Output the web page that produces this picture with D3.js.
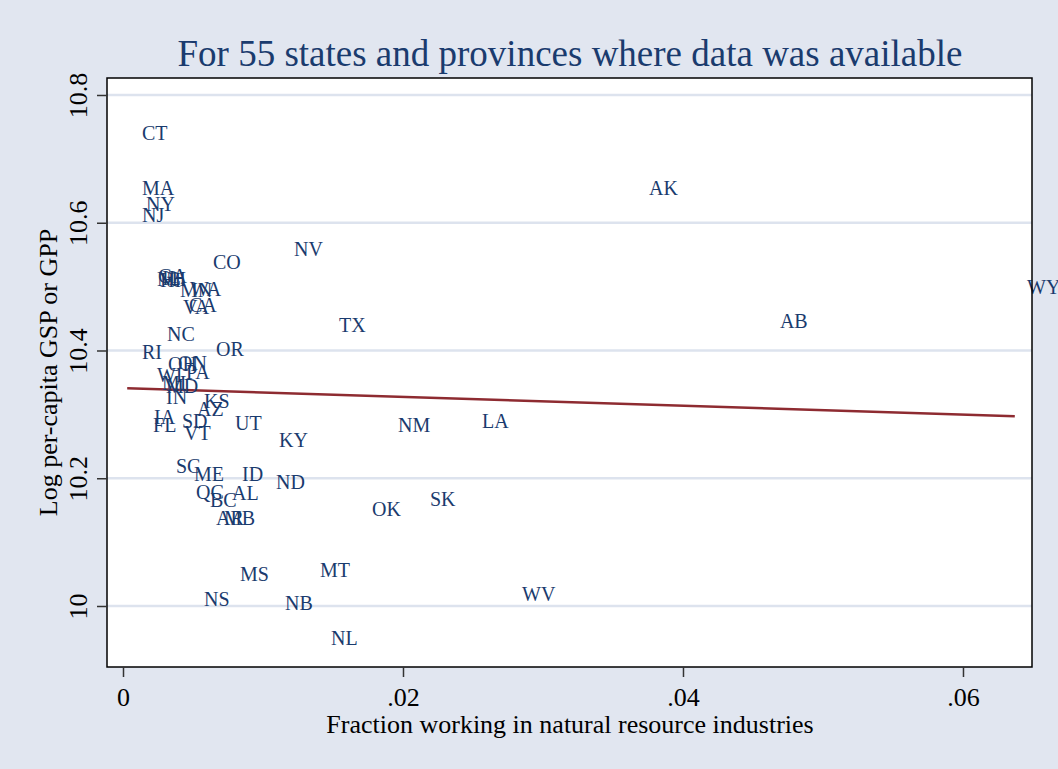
<!DOCTYPE html>
<html>
<head>
<meta charset="utf-8">
<script src="https://cdn.jsdelivr.net/npm/d3@7"></script>
<style>
  body { margin: 0; background: #e1e6f0; }
  svg { display: block; font-family: "Liberation Serif", "Times New Roman", serif; }
</style>
</head>
<body>
<svg id="chart" width="1058" height="769"></svg>
<script>
"use strict";
// state / province codes with (fraction in natural resources, log per-capita GSP)
const codes = ["CT","MA","NY","NJ","GA","NH","HI","IL","MN","WA","VA","CA","NC","RI","CO","OR",
  "OH","ON","PA","WI","MI","MD","IN","KS","AZ","IA","FL","SD","VT","UT","KY","NM","LA","TX",
  "NV","AK","AB","WY","SC","ME","ID","ND","QC","BC","AL","AR","MB","OK","SK","MS","MT","NS",
  "NB","NL","WV"];
const fracNR = [0.00064,0.00064,0.00093,0.00064,0.00179,0.00171,0.00193,0.00207,0.00336,0.00407,
  0.00357,0.00400,0.00243,0.00064,0.00571,0.00593,0.00250,0.00321,0.00379,0.00171,0.00207,0.00236,
  0.00236,0.00507,0.00457,0.00150,0.00143,0.00350,0.00364,0.00729,0.01043,0.01893,0.02493,0.01471,
  0.01150,0.03686,0.04621,0.06386,0.00307,0.00436,0.00779,0.01021,0.00450,0.00550,0.00707,0.00593,
  0.00650,0.01707,0.02121,0.00764,0.01336,0.00507,0.01086,0.01414,0.02779];
const logGSP = [10.741,10.654,10.629,10.612,10.517,10.512,10.510,10.513,10.495,10.496,10.468,10.471,
  10.426,10.398,10.539,10.402,10.379,10.380,10.366,10.362,10.349,10.344,10.327,10.321,10.308,10.296,
  10.283,10.290,10.271,10.286,10.260,10.283,10.290,10.440,10.559,10.654,10.446,10.499,10.219,10.207,
  10.207,10.194,10.178,10.166,10.177,10.138,10.138,10.152,10.168,10.050,10.056,10.011,10.005,9.950,
  10.019];
// linear fit endpoints
const fitX = [0.0003, 0.0637];
const fitY = [10.341, 10.297];
const xTicks = [0, 0.02, 0.04, 0.06];
const xTickLabels = ["0", ".02", ".04", ".06"];
const yTicks = [10, 10.2, 10.4, 10.6, 10.8];
const yTickLabels = ["10", "10.2", "10.4", "10.6", "10.8"];

const svg = d3.select("#chart");
const box = { left: 107, top: 78, right: 1032, bottom: 667 };

const x = d3.scaleLinear().domain([-0.001143, 0.06493]).range([box.left, box.right]);
const y = d3.scaleLinear().domain([9.9045, 10.8266]).range([box.bottom, box.top]);

const navy = "#1a3b6e";

svg.append("rect").attr("width", 1058).attr("height", 769).attr("fill", "#e1e6f0");

// title
svg.append("text")
  .attr("x", 570).attr("y", 66)
  .attr("text-anchor", "middle")
  .attr("font-size", 37)
  .attr("fill", navy)
  .text("For 55 states and provinces where data was available");

// plot region
svg.append("rect")
  .attr("x", box.left).attr("y", box.top)
  .attr("width", box.right - box.left).attr("height", box.bottom - box.top)
  .attr("fill", "#ffffff");

// gridlines
svg.append("g").selectAll("line")
  .data(yTicks).enter().append("line")
  .attr("x1", box.left).attr("x2", box.right)
  .attr("y1", d => y(d)).attr("y2", d => y(d))
  .style("stroke", "#dde3ee")
  .style("stroke-width", 2.5);

// fitted line
svg.append("line")
  .attr("x1", x(fitX[0])).attr("y1", y(fitY[0]))
  .attr("x2", x(fitX[1])).attr("y2", y(fitY[1]))
  .style("stroke", "#8e2b31")
  .style("stroke-width", 2.5);

// marker labels (position 3, no symbol)
svg.append("g").selectAll("text")
  .data(codes).enter().append("text")
  .attr("x", (d, i) => x(fracNR[i]) + 10)
  .attr("y", (d, i) => y(logGSP[i]))
  .attr("dy", "0.35em")
  .attr("font-size", 20)
  .attr("fill", navy)
  .text(d => d);

// frame
svg.append("rect")
  .attr("x", box.left).attr("y", box.top)
  .attr("width", box.right - box.left).attr("height", box.bottom - box.top)
  .attr("fill", "none")
  .style("stroke", "#000")
  .style("stroke-width", 1.5);

// y axis
let yAxis = d3.axisLeft(y).tickValues(yTicks).tickSize(10).tickPadding(8)
  .tickFormat((d, i) => yTickLabels[i]);
let gy = svg.append("g").attr("transform", `translate(${box.left},0)`).call(yAxis);
gy.select(".domain").remove();
gy.selectAll(".tick line").style("stroke", "#333").style("stroke-width", 1.5);
gy.selectAll(".tick text")
  .attr("font-family", "Liberation Serif, serif")
  .attr("font-size", 26).attr("fill", "#000")
  .attr("text-anchor", "middle")
  .attr("dy", null)
  .attr("x", 0).attr("y", -20)
  .attr("transform", "rotate(-90)");

// x axis
let xAxis = d3.axisBottom(x).tickValues(xTicks).tickSize(10).tickPadding(11)
  .tickFormat((d, i) => xTickLabels[i]);
let gx = svg.append("g").attr("transform", `translate(0,${box.bottom})`).call(xAxis);
gx.select(".domain").remove();
gx.selectAll(".tick line").style("stroke", "#333").style("stroke-width", 1.5);
gx.selectAll(".tick text")
  .attr("font-family", "Liberation Serif, serif")
  .attr("font-size", 26).attr("fill", "#000");

// axis titles
svg.append("text")
  .attr("x", 570).attr("y", 733)
  .attr("text-anchor", "middle")
  .attr("font-size", 26)
  .attr("fill", "#000")
  .text("Fraction working in natural resource industries");

svg.append("text")
  .attr("transform", `translate(57,${(box.top + box.bottom) / 2}) rotate(-90)`)
  .attr("text-anchor", "middle")
  .attr("font-size", 26)
  .attr("fill", "#000")
  .text("Log per-capita GSP or GPP");
</script>
</body>
</html>
